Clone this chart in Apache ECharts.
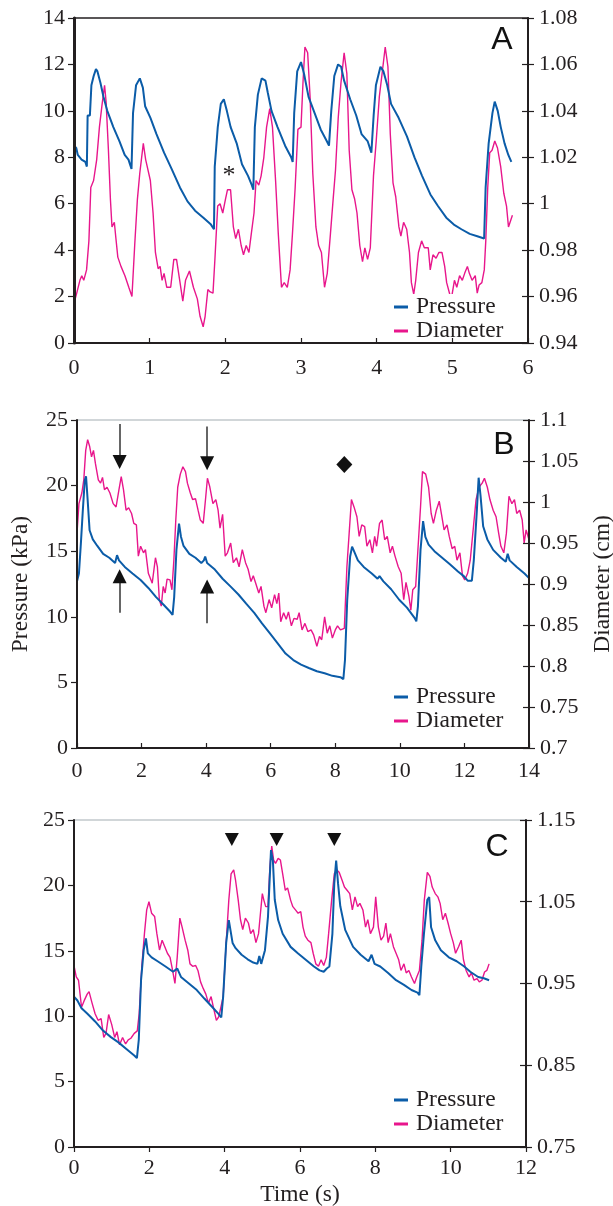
<!DOCTYPE html>
<html><head><meta charset="utf-8">
<script src="https://cdn.jsdelivr.net/npm/echarts@6/dist/echarts.min.js"></script>
<style>html,body{margin:0;padding:0;background:#fff}#c{width:613px;height:1206px}</style>
</head><body><div id="c"></div>
<script>
// ---------- DATA ----------
const seriesNames = ['Pressure', 'Diameter'];
const panelLabels = ['A', 'B', 'C'];
const xTicksA = [0, 6, 1], xTicksB = [0, 14, 2], xTicksC = [0, 12, 2];          // [min,max,step]
const pTicksA = [0, 14, 2], pTicksB = [0, 25, 5], pTicksC = [0, 25, 5];
const dTicksA = [0.94, 1.08, 0.02], dTicksB = [0.7, 1.1, 0.05], dTicksC = [0.75, 1.15, 0.1];

// Panel A  [time s, pressure kPa]
const pressureA = [[0,8.5],[0.03,8.4],[0.05,8.1],[0.10,7.9],[0.15,7.8],[0.17,7.6],[0.18,9.8],[0.21,9.8],[0.23,11.1],[0.26,11.5],[0.29,11.8],[0.31,11.7],[0.35,11.2],[0.39,10.6],[0.44,10.0],[0.52,9.3],[0.60,8.7],[0.67,8.1],[0.72,7.9],[0.76,7.5],[0.78,9.9],[0.82,11.1],[0.87,11.4],[0.91,11.0],[0.94,10.2],[1.01,9.7],[1.09,9.0],[1.19,8.2],[1.29,7.5],[1.40,6.7],[1.50,6.1],[1.60,5.7],[1.71,5.4],[1.81,5.1],[1.85,4.9],[1.86,7.6],[1.90,9.3],[1.94,10.3],[1.98,10.5],[2.02,10.0],[2.07,9.3],[2.15,8.6],[2.22,7.7],[2.30,7.2],[2.35,6.8],[2.37,6.6],[2.39,9.3],[2.43,10.7],[2.48,11.4],[2.53,11.3],[2.56,10.8],[2.61,10.0],[2.69,9.3],[2.79,8.5],[2.87,8.0],[2.89,7.8],[2.91,9.9],[2.95,11.7],[3.00,12.1],[3.04,11.6],[3.10,10.6],[3.18,9.9],[3.26,9.2],[3.34,8.7],[3.37,8.5],[3.40,10.0],[3.44,11.5],[3.49,12.0],[3.53,11.9],[3.57,11.3],[3.65,10.5],[3.73,9.8],[3.80,9.0],[3.88,8.7],[3.93,8.2],[3.96,9.8],[3.99,11.1],[4.05,11.9],[4.09,11.7],[4.14,11.1],[4.19,10.3],[4.29,9.7],[4.40,8.9],[4.50,8.0],[4.60,7.2],[4.71,6.4],[4.81,5.9],[4.92,5.4],[5.02,5.1],[5.12,4.9],[5.23,4.7],[5.33,4.6],[5.42,4.5],[5.44,6.7],[5.48,8.6],[5.53,9.9],[5.56,10.4],[5.60,10.0],[5.64,9.3],[5.69,8.6],[5.74,8.1],[5.78,7.8]];
// Panel A  [time s, diameter cm]
const diameterA = [[0,0.957],[0.036,0.9615],[0.078,0.967],[0.103,0.969],[0.129,0.967],[0.166,0.9715],[0.197,0.984],[0.222,1.007],[0.259,1.010],[0.30,1.019],[0.336,1.033],[0.372,1.043],[0.404,1.051],[0.424,1.044],[0.455,1.023],[0.481,1.002],[0.502,0.990],[0.533,0.992],[0.554,0.985],[0.579,0.977],[0.621,0.973],[0.673,0.969],[0.724,0.964],[0.766,0.960],[0.802,0.982],[0.838,1.002],[0.869,1.013],[0.916,1.026],[0.947,1.019],[1.009,1.010],[1.045,0.996],[1.076,0.979],[1.112,0.972],[1.138,0.973],[1.164,0.967],[1.19,0.970],[1.226,0.964],[1.278,0.964],[1.319,0.976],[1.355,0.976],[1.397,0.967],[1.438,0.958],[1.474,0.967],[1.526,0.971],[1.578,0.964],[1.63,0.959],[1.666,0.9515],[1.707,0.947],[1.733,0.9515],[1.769,0.963],[1.80,0.962],[1.837,0.9615],[1.862,0.976],[1.899,0.999],[1.93,1.000],[1.966,0.996],[2.002,1.002],[2.028,1.006],[2.069,1.006],[2.106,0.990],[2.137,0.985],[2.173,0.989],[2.209,0.982],[2.24,0.978],[2.276,0.982],[2.312,0.979],[2.343,0.987],[2.379,0.996],[2.406,1.010],[2.442,1.008],[2.473,1.012],[2.509,1.020],[2.545,1.033],[2.587,1.041],[2.623,1.033],[2.664,1.010],[2.70,0.987],[2.742,0.964],[2.778,0.966],[2.819,0.964],[2.856,0.9715],[2.887,0.987],[2.923,1.007],[2.959,1.032],[3.0,1.033],[3.026,1.052],[3.052,1.0675],[3.088,1.065],[3.12,1.046],[3.156,1.013],[3.197,0.990],[3.233,0.982],[3.27,0.979],[3.311,0.964],[3.347,0.970],[3.389,0.987],[3.425,1.002],[3.456,1.0145],[3.492,1.037],[3.528,1.052],[3.57,1.065],[3.606,1.056],[3.637,1.023],[3.673,1.006],[3.709,1.002],[3.74,0.996],[3.777,0.982],[3.813,0.975],[3.844,0.981],[3.88,0.976],[3.916,0.981],[3.958,1.012],[3.994,1.027],[4.035,1.046],[4.077,1.0575],[4.113,1.0675],[4.149,1.059],[4.18,1.030],[4.216,1.009],[4.252,1.003],[4.294,0.990],[4.32,0.986],[4.356,0.992],[4.397,0.989],[4.434,0.979],[4.459,0.966],[4.49,0.961],[4.516,0.967],[4.552,0.979],[4.594,0.984],[4.63,0.981],[4.682,0.981],[4.708,0.9715],[4.744,0.978],[4.785,0.9765],[4.822,0.979],[4.863,0.979],[4.899,0.973],[4.925,0.966],[4.966,0.961],[4.992,0.960],[5.028,0.967],[5.059,0.964],[5.096,0.969],[5.132,0.967],[5.163,0.970],[5.199,0.973],[5.225,0.970],[5.261,0.967],[5.303,0.969],[5.329,0.9615],[5.354,0.965],[5.39,0.966],[5.422,0.9715],[5.442,0.984],[5.468,1.007],[5.494,1.022],[5.525,1.023],[5.561,1.027],[5.597,1.024],[5.639,1.016],[5.68,1.0045],[5.716,0.999],[5.742,0.990],[5.768,0.990],[5.794,0.995]];

// Panel B
const pressureB = [[0,12.7],[0.06,13.3],[0.12,15.6],[0.18,18.1],[0.24,20.4],[0.28,20.7],[0.33,18.9],[0.39,16.6],[0.49,15.9],[0.63,15.4],[0.81,14.8],[1.0,14.5],[1.18,14.1],[1.24,14.7],[1.3,14.3],[1.48,13.8],[1.72,13.3],[1.97,12.8],[2.21,12.2],[2.45,11.5],[2.69,10.9],[2.88,10.4],[2.96,10.15],[3.01,11.5],[3.08,15.1],[3.16,17.1],[3.22,16.1],[3.3,15.4],[3.48,14.8],[3.67,14.5],[3.85,14.1],[3.93,14.3],[3.97,14.6],[4.03,14.1],[4.27,13.6],[4.51,12.9],[4.76,12.3],[5.0,11.7],[5.24,11.0],[5.49,10.3],[5.73,9.5],[5.97,8.75],[6.21,8.0],[6.46,7.2],[6.7,6.7],[6.94,6.35],[7.18,6.1],[7.43,5.85],[7.67,5.7],[7.91,5.5],[8.16,5.4],[8.25,5.25],[8.3,6.7],[8.37,11.3],[8.46,14.6],[8.52,15.35],[8.58,15.0],[8.7,14.3],[8.88,13.8],[9.13,13.3],[9.31,12.9],[9.37,13.1],[9.49,12.7],[9.73,12.1],[9.98,11.3],[10.22,10.7],[10.46,9.9],[10.51,9.65],[10.56,10.8],[10.64,15.1],[10.72,17.3],[10.79,16.1],[10.89,15.5],[11.07,15.0],[11.31,14.5],[11.55,14.0],[11.8,13.45],[11.98,13.1],[12.1,12.75],[12.23,12.75],[12.29,14.3],[12.38,17.9],[12.44,20.6],[12.5,19.2],[12.58,16.9],[12.71,15.9],[12.89,15.1],[13.13,14.5],[13.28,14.2],[13.34,14.8],[13.4,14.3],[13.62,13.8],[13.86,13.3],[14.0,12.95]];
const diameterB = [[0,0.962],[0.06,0.998],[0.15,1.011],[0.21,1.027],[0.27,1.063],[0.33,1.076],[0.39,1.068],[0.45,1.055],[0.51,1.063],[0.57,1.047],[0.66,1.027],[0.73,1.023],[0.79,1.030],[0.85,1.015],[0.93,1.018],[1.02,1.011],[1.12,0.998],[1.21,0.994],[1.3,1.015],[1.37,1.031],[1.44,1.015],[1.52,0.990],[1.6,0.993],[1.69,0.986],[1.76,0.974],[1.84,0.972],[1.9,0.934],[1.97,0.946],[2.06,0.938],[2.12,0.942],[2.21,0.913],[2.33,0.901],[2.43,0.932],[2.49,0.921],[2.55,0.881],[2.61,0.873],[2.67,0.897],[2.73,0.889],[2.79,0.906],[2.88,0.905],[2.94,0.893],[3.0,0.929],[3.06,0.978],[3.12,1.018],[3.2,1.034],[3.28,1.043],[3.36,1.037],[3.42,1.023],[3.51,1.011],[3.58,1.003],[3.67,1.004],[3.75,0.990],[3.82,0.978],[3.91,0.974],[3.98,1.003],[4.04,1.029],[4.11,1.019],[4.21,0.998],[4.3,1.003],[4.37,0.990],[4.43,0.968],[4.51,0.985],[4.59,0.934],[4.66,0.938],[4.76,0.950],[4.84,0.926],[4.94,0.932],[5.02,0.921],[5.12,0.942],[5.22,0.926],[5.3,0.918],[5.39,0.903],[5.46,0.910],[5.55,0.899],[5.63,0.889],[5.7,0.897],[5.79,0.873],[5.85,0.865],[5.95,0.881],[6.03,0.871],[6.12,0.887],[6.19,0.876],[6.25,0.889],[6.31,0.854],[6.4,0.865],[6.48,0.857],[6.55,0.866],[6.64,0.849],[6.72,0.858],[6.82,0.857],[6.88,0.865],[6.97,0.844],[7.06,0.852],[7.15,0.842],[7.25,0.844],[7.33,0.838],[7.43,0.824],[7.51,0.836],[7.58,0.832],[7.67,0.860],[7.75,0.840],[7.83,0.849],[7.91,0.834],[8.0,0.844],[8.07,0.849],[8.16,0.844],[8.28,0.846],[8.36,0.921],[8.43,0.962],[8.5,1.003],[8.58,0.994],[8.67,0.982],[8.74,0.958],[8.82,0.972],[8.91,0.970],[8.98,0.946],[9.07,0.954],[9.15,0.938],[9.22,0.958],[9.28,0.946],[9.37,0.974],[9.45,0.978],[9.53,0.954],[9.61,0.958],[9.7,0.938],[9.77,0.946],[9.85,0.934],[9.95,0.921],[10.04,0.913],[10.12,0.881],[10.19,0.902],[10.28,0.885],[10.34,0.868],[10.4,0.893],[10.49,0.897],[10.56,0.942],[10.64,0.994],[10.7,1.037],[10.8,1.034],[10.89,1.018],[10.97,0.986],[11.04,0.974],[11.13,0.990],[11.22,1.001],[11.29,0.985],[11.37,0.966],[11.46,0.972],[11.53,0.958],[11.62,0.943],[11.7,0.946],[11.77,0.929],[11.86,0.938],[11.94,0.910],[12.01,0.905],[12.1,0.913],[12.18,0.929],[12.28,0.970],[12.36,1.003],[12.45,1.018],[12.55,1.023],[12.62,1.029],[12.71,1.018],[12.79,1.003],[12.89,0.990],[12.98,0.982],[13.06,0.962],[13.13,0.946],[13.22,0.938],[13.3,0.962],[13.38,1.007],[13.47,0.998],[13.55,1.003],[13.62,0.986],[13.71,0.990],[13.79,0.978],[13.85,0.950],[13.91,0.966],[14.0,0.954]];

// Panel C
const pressureC = [[0,11.5],[0.09,11.2],[0.2,10.6],[0.35,10.2],[0.56,9.6],[0.77,8.9],[0.98,8.4],[1.18,8.0],[1.39,7.5],[1.6,7.0],[1.67,6.8],[1.72,8.2],[1.78,12.75],[1.85,15.05],[1.91,15.95],[1.96,14.8],[2.06,14.5],[2.22,14.2],[2.43,13.8],[2.63,13.4],[2.74,13.65],[2.84,13.0],[3.05,12.5],[3.26,12.0],[3.46,11.35],[3.67,10.7],[3.83,10.2],[3.91,9.9],[3.96,11.5],[4.04,15.6],[4.11,17.35],[4.15,17.2],[4.21,15.6],[4.29,15.2],[4.45,14.7],[4.61,14.35],[4.76,14.1],[4.87,14.0],[4.92,14.6],[4.97,14.0],[5.02,13.9],[5.07,15.05],[5.15,17.6],[5.23,22.7],[5.28,21.9],[5.33,18.9],[5.42,17.35],[5.54,16.3],[5.75,15.3],[5.95,14.8],[6.16,14.3],[6.37,13.8],[6.52,13.5],[6.63,13.4],[6.71,13.65],[6.78,13.8],[6.86,16.3],[6.91,20.15],[6.96,21.9],[7.01,20.15],[7.07,18.4],[7.2,16.6],[7.41,15.3],[7.61,14.7],[7.82,14.2],[7.9,14.7],[7.98,14.0],[8.13,13.8],[8.34,13.3],[8.55,12.75],[8.76,12.4],[8.96,12.0],[9.12,11.8],[9.17,11.6],[9.22,13.8],[9.29,16.3],[9.38,18.9],[9.43,19.1],[9.48,16.8],[9.59,15.8],[9.74,15.05],[9.95,14.5],[10.16,14.2],[10.36,13.8],[10.52,13.4],[10.73,13.0],[10.88,12.9],[11.02,12.75]];
const diameterC = [[0,0.972],[0.06,0.958],[0.12,0.954],[0.2,0.921],[0.27,0.929],[0.35,0.937],[0.4,0.940],[0.48,0.926],[0.56,0.913],[0.64,0.905],[0.72,0.907],[0.79,0.884],[0.85,0.889],[0.92,0.912],[1.0,0.900],[1.08,0.884],[1.14,0.891],[1.21,0.875],[1.29,0.884],[1.37,0.876],[1.44,0.881],[1.51,0.883],[1.6,0.889],[1.68,0.892],[1.73,0.913],[1.8,0.971],[1.87,1.011],[1.93,1.040],[1.99,1.050],[2.06,1.036],[2.14,1.032],[2.2,1.011],[2.27,0.991],[2.34,1.003],[2.41,0.995],[2.48,0.987],[2.55,0.982],[2.61,0.968],[2.68,0.950],[2.74,0.982],[2.81,1.030],[2.87,1.019],[2.95,1.003],[3.02,0.991],[3.08,0.974],[3.15,0.971],[3.23,0.972],[3.29,0.966],[3.36,0.952],[3.43,0.944],[3.5,0.937],[3.57,0.926],[3.64,0.934],[3.7,0.921],[3.78,0.905],[3.84,0.909],[3.9,0.921],[3.96,0.934],[4.04,1.000],[4.11,1.052],[4.17,1.084],[4.24,1.089],[4.29,1.076],[4.36,1.052],[4.42,1.028],[4.48,1.016],[4.55,1.030],[4.63,1.024],[4.69,1.011],[4.76,1.016],[4.83,1.000],[4.9,1.011],[4.95,1.036],[5.0,1.060],[5.04,1.052],[5.09,1.044],[5.15,1.044],[5.2,1.092],[5.25,1.118],[5.3,1.101],[5.35,1.097],[5.42,1.103],[5.48,1.101],[5.54,1.084],[5.61,1.064],[5.67,1.067],[5.75,1.052],[5.81,1.044],[5.88,1.040],[5.95,1.036],[6.02,1.038],[6.08,1.019],[6.14,1.008],[6.21,1.003],[6.29,1.000],[6.35,0.987],[6.42,0.974],[6.49,0.971],[6.56,0.979],[6.63,0.972],[6.7,0.982],[6.76,1.011],[6.84,1.052],[6.91,1.084],[6.97,1.089],[7.04,1.086],[7.12,1.076],[7.18,1.068],[7.25,1.064],[7.32,1.060],[7.39,1.040],[7.46,1.056],[7.53,1.044],[7.59,1.048],[7.67,1.040],[7.74,1.019],[7.8,1.028],[7.87,1.011],[7.95,1.019],[8.01,1.056],[8.08,1.019],[8.15,1.003],[8.22,1.008],[8.28,1.024],[8.34,1.000],[8.4,1.011],[8.48,0.995],[8.55,0.987],[8.62,0.979],[8.68,0.966],[8.76,0.974],[8.82,0.963],[8.89,0.966],[8.96,0.958],[9.04,0.950],[9.1,0.958],[9.17,0.966],[9.24,1.003],[9.3,1.052],[9.38,1.086],[9.45,1.081],[9.51,1.068],[9.59,1.060],[9.66,1.056],[9.72,1.048],[9.79,1.028],[9.86,1.036],[9.93,1.024],[10.0,1.011],[10.07,1.000],[10.13,0.987],[10.21,0.995],[10.28,1.003],[10.34,0.979],[10.41,0.966],[10.49,0.958],[10.55,0.963],[10.62,0.954],[10.7,0.956],[10.76,0.952],[10.83,0.954],[10.9,0.964],[10.96,0.966],[11.02,0.974]];

// Annotations (data coordinates on the pressure axis)
const asteriskA = [[2.05, 7.2]];
const arrowShaftsB = [[1.32, 24.7, 22.2], [4.03, 24.5, 22.1], [1.32, 10.3, 12.7], [4.03, 9.5, 11.9]];
const arrowHeadsDownB = [[1.32, 21.8], [4.03, 21.7]];
const arrowHeadsUpB = [[1.32, 13.1], [4.03, 12.3]];
const diamondB = [[8.28, 21.6]];
const trianglesC = [[4.19, 23.5], [5.38, 23.5], [6.91, 23.5]];

// ---------- STYLE / LAYOUT ----------
const BLUE = '#0b5ca8', PINK = '#e8168c', INK = '#231f20';
const SERIF = '"Liberation Serif","DejaVu Serif",serif';
const grids = [
  {left: 74, right: 85, top: 18, height: 325},
  {left: 77, right: 84, top: 420, height: 328},
  {left: 74, right: 87, top: 820, height: 327}
];
const topBorder = ['#231f20', '#a3adb2', '#a3adb2'];
const xLabelMargin = [14, 12, 10];
const xT = [xTicksA, xTicksB, xTicksC], pT = [pTicksA, pTicksB, pTicksC], dT = [dTicksA, dTicksB, dTicksC];
const fmt = v => String(parseFloat(v.toFixed(2)));
const lbl = {color: INK, fontFamily: SERIF, fontSize: 22};
const nameStyle = {color: INK, fontFamily: SERIF, fontSize: 23.5};

const option = {animation: false, grid: [], xAxis: [], yAxis: [], series: [], legend: [], graphic: []};
grids.forEach((g, i) => {
  option.grid.push(Object.assign({show: true, borderColor: topBorder[i], borderWidth: i === 0 ? 1.5 : 1,
    backgroundColor: 'transparent', containLabel: false, outerBoundsMode: 'none'}, g));
  option.xAxis.push({
    type: 'value', gridIndex: i, min: xT[i][0], max: xT[i][1], interval: xT[i][2], z: 10,
    axisLine: {lineStyle: {color: INK, width: 2}},
    axisTick: {inside: i < 2, length: 5, lineStyle: {color: INK, width: 1.2}},
    axisLabel: Object.assign({margin: xLabelMargin[i], formatter: fmt}, lbl),
    splitLine: {show: false},
    name: i === 2 ? 'Time (s)' : '', nameLocation: 'middle', nameGap: 36,
    nameTextStyle: nameStyle
  });
  option.yAxis.push({
    type: 'value', gridIndex: i, position: 'left', min: pT[i][0], max: pT[i][1], interval: pT[i][2], z: 10,
    axisLine: {show: true, lineStyle: {color: INK, width: i === 0 ? 3 : 2}},
    axisTick: {show: true, length: 6, lineStyle: {color: INK, width: 1.2}},
    axisLabel: Object.assign({margin: 9, formatter: fmt}, lbl),
    splitLine: {show: false},
    name: i === 1 ? 'Pressure (kPa)' : '', nameLocation: 'middle', nameRotate: 90, nameGap: 44,
    nameTextStyle: nameStyle
  });
  option.yAxis.push({
    type: 'value', gridIndex: i, position: 'right', min: dT[i][0], max: dT[i][1], interval: dT[i][2], z: 10,
    axisLine: {show: true, lineStyle: {color: INK, width: 2}},
    axisTick: {show: true, length: 6, lineStyle: {color: INK, width: 1.2}},
    axisLabel: Object.assign({margin: 11, formatter: fmt}, lbl),
    splitLine: {show: false},
    name: i === 1 ? 'Diameter (cm)' : '', nameLocation: 'middle', nameRotate: 90, nameGap: 62,
    nameTextStyle: nameStyle
  });
  // inner half of the crossing ticks on the right axis
  option.yAxis.push({
    type: 'value', gridIndex: i, position: 'right', min: dT[i][0], max: dT[i][1], interval: dT[i][2], z: 10,
    axisLine: {show: false}, axisLabel: {show: false}, splitLine: {show: false},
    axisTick: {show: true, inside: true, length: 6, lineStyle: {color: INK, width: 1.2}}
  });
});

const pData = [pressureA, pressureB, pressureC], dData = [diameterA, diameterB, diameterC];
pData.forEach((p, i) => {
  option.series.push({
    name: seriesNames[1], type: 'line', xAxisIndex: i, yAxisIndex: i * 3 + 1, data: dData[i],
    showSymbol: false, symbol: 'none', lineStyle: {color: PINK, width: 1.4}, itemStyle: {color: PINK}, z: 2, silent: true
  });
  option.series.push({
    name: seriesNames[0], type: 'line', xAxisIndex: i, yAxisIndex: i * 3, data: p,
    showSymbol: false, symbol: 'none', lineStyle: {color: BLUE, width: 2}, itemStyle: {color: BLUE}, z: 3, silent: true
  });
});

// annotations
const mkTxt = (c, txt) => ({coord: c, symbol: 'circle', symbolSize: 1, itemStyle: {color: 'rgba(0,0,0,0)'},
  label: {show: true, position: 'inside', formatter: txt, color: INK, fontFamily: SERIF, fontSize: 26}});
const mkSym = (c, sym, size, rot) => ({coord: c, symbol: sym, symbolSize: size, symbolRotate: rot || 0,
  itemStyle: {color: '#111'}, label: {show: false}});
option.series[1].markPoint = {silent: true, animation: false, data: asteriskA.map(c => mkTxt(c, '*'))};
option.series[3].markPoint = {silent: true, animation: false,
  data: diamondB.map(c => mkSym(c, 'diamond', [16, 17]))
    .concat(arrowHeadsDownB.map(c => mkSym(c, 'triangle', [14, 14], 180)))
    .concat(arrowHeadsUpB.map(c => mkSym(c, 'triangle', [14, 14], 0)))};
option.series[3].markLine = {silent: true, animation: false, symbol: ['none', 'none'],
  label: {show: false}, lineStyle: {color: '#333', width: 1.5, type: 'solid'}, emphasis: {disabled: true},
  data: arrowShaftsB.map(a => [{coord: [a[0], a[1]]}, {coord: [a[0], a[2]]}])};
option.series[5].markPoint = {silent: true, animation: false,
  data: trianglesC.map(c => mkSym(c, 'triangle', [14, 13], 180))};

// legends
const legendTops = [294, 684, 1087];
legendTops.forEach(t => option.legend.push({
  data: seriesNames, orient: 'vertical', left: 390, top: t, itemGap: 0, itemWidth: 14, itemHeight: 3,
  icon: 'rect', selectedMode: false, backgroundColor: '#fff', padding: [1, 8, 0, 4], z: 4,
  textStyle: {color: INK, fontFamily: SERIF, fontSize: 23.5, lineHeight: 23, padding: [0, 0, 0, 3]}
}));

// panel letters
[[502, 40], [504, 445], [497, 847]].forEach((p, i) => option.graphic.push({
  type: 'text', x: p[0], y: p[1], style: {text: panelLabels[i], fill: '#111', font: '32px "Liberation Sans", Arial, sans-serif',
  textAlign: 'center', textVerticalAlign: 'middle'}
}));

const chart = echarts.init(document.getElementById('c'), null, {renderer: 'canvas'});
chart.setOption(option);
</script></body></html>
